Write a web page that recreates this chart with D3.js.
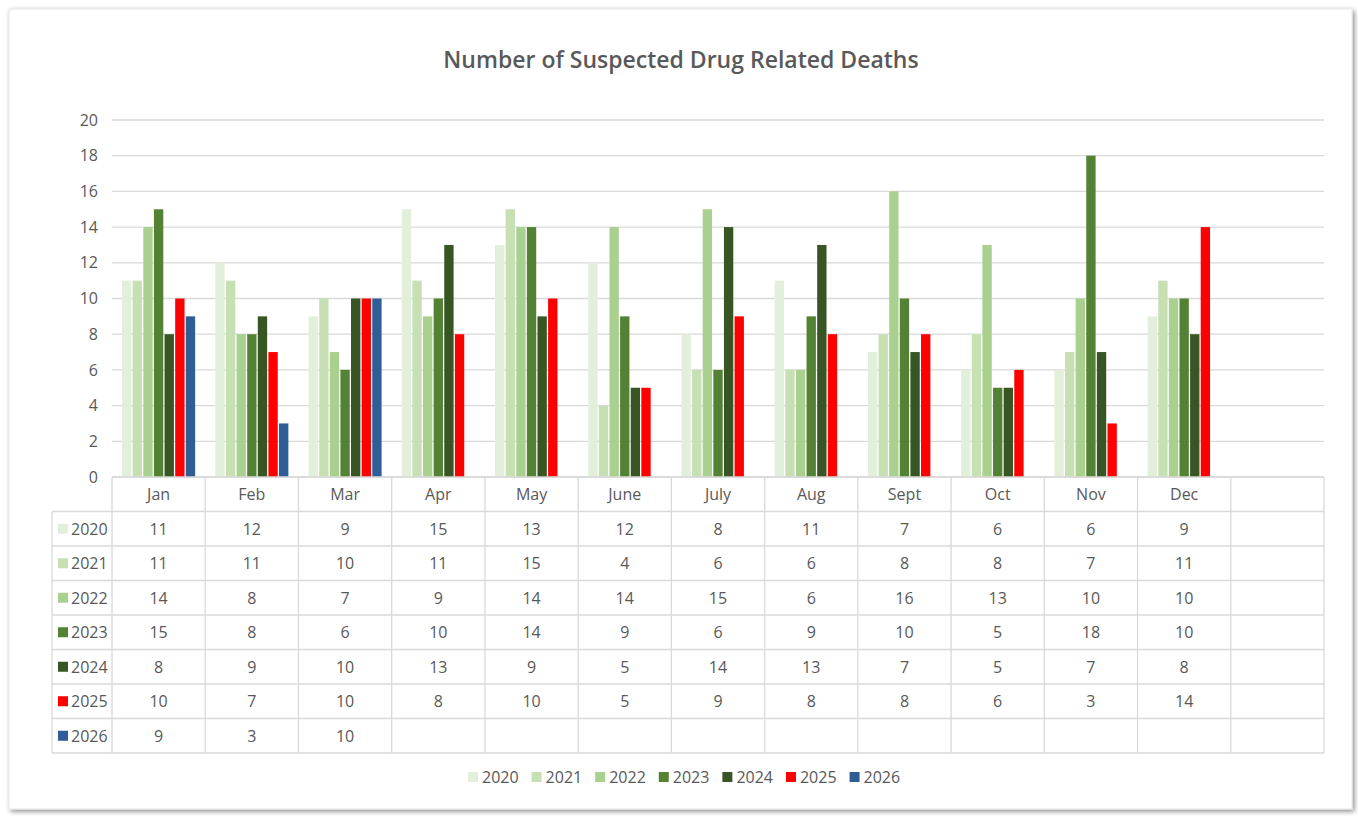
<!DOCTYPE html>
<html>
<head>
<meta charset="utf-8">
<script src="https://cdn.jsdelivr.net/npm/d3@7"></script>
<style>
  body { margin: 0; background: #fff; }
  svg text { font-family: "Open Sans", "Noto Sans", sans-serif; fill: #595959; }
</style>
</head>
<body>
<div id="chart"></div>
<script>
// months (the 13th column is empty in the original)
const months = ['Jan', 'Feb', 'Mar', 'Apr', 'May', 'June', 'July', 'Aug', 'Sept', 'Oct', 'Nov', 'Dec', ''];
const years = ['2020', '2021', '2022', '2023', '2024', '2025', '2026'];
const colors = ['#e2efda', '#c6e0b4', '#a9d08e', '#548235', '#375623', '#ff0000', '#2e5e95'];

const d2020 = [11, 12, 9, 15, 13, 12, 8, 11, 7, 6, 6, 9];
const d2021 = [11, 11, 10, 11, 15, 4, 6, 6, 8, 8, 7, 11];
const d2022 = [14, 8, 7, 9, 14, 14, 15, 6, 16, 13, 10, 10];
const d2023 = [15, 8, 6, 10, 14, 9, 6, 9, 10, 5, 18, 10];
const d2024 = [8, 9, 10, 13, 9, 5, 14, 13, 7, 5, 7, 8];
const d2025 = [10, 7, 10, 8, 10, 5, 9, 8, 8, 6, 3, 14];
const d2026 = [9, 3, 10];
const series = [d2020, d2021, d2022, d2023, d2024, d2025, d2026];

const yTicks = d3.range(0, 21, 2);

const W = 1358, H = 819;
const plot = { left: 112, right: 1324, top: 120, bottom: 477 };
const rowH = 34.5;
const keyColLeft = 52;

const svg = d3.select('#chart').append('svg')
    .attr('width', W)
    .attr('height', H);

// card with shadow
const defs = svg.append('defs');
const f = defs.append('filter').attr('id', 'shadow').attr('x', '-5%').attr('y', '-5%').attr('width', '110%').attr('height', '110%');
f.append('feDropShadow').attr('dx', 2).attr('dy', 2).attr('stdDeviation', 2.5).attr('flood-color', '#000').attr('flood-opacity', 0.45);

svg.append('rect')
    .attr('x', 9).attr('y', 9)
    .attr('width', 1343).attr('height', 800)
    .attr('fill', '#fff')
    .attr('stroke', '#e6e6e6')
    .attr('filter', 'url(#shadow)');

// title
svg.append('text')
    .attr('x', 681).attr('y', 68)
    .attr('text-anchor', 'middle')
    .style('font-size', '23px')
    .style('font-weight', '600')
    .text('Number of Suspected Drug Related Deaths');

const x = d3.scaleBand()
    .domain(months.map((m, i) => i))
    .range([plot.left, plot.right]);

const x1 = d3.scaleBand()
    .domain(years)
    .range([0, x.bandwidth()])
    .paddingInner(0.12)
    .paddingOuter(0.95);

const y = d3.scaleLinear()
    .domain([0, 20])
    .range([plot.bottom, plot.top]);

// gridlines
svg.append('g')
    .selectAll('line')
    .data(yTicks)
    .enter().append('line')
    .attr('x1', plot.left).attr('x2', plot.right)
    .attr('y1', d => y(d)).attr('y2', d => y(d))
    .attr('stroke', '#d9d9d9')
    .attr('stroke-width', 1.3);

// y axis labels
const yAxis = d3.axisLeft(y).tickValues(yTicks).tickSize(0).tickPadding(14);
const ya = svg.append('g')
    .attr('transform', `translate(${plot.left},0)`)
    .call(yAxis);
ya.select('.domain').remove();
ya.selectAll('text')
    .style('font-size', '16px')
    .style('fill', '#595959')
    .style('font-family', '"Open Sans", sans-serif');

// bars
series.forEach((vals, si) => {
    svg.append('g')
        .selectAll('rect')
        .data(vals)
        .enter().append('rect')
        .attr('x', (d, i) => x(i) + x1(years[si]))
        .attr('width', x1.bandwidth())
        .attr('y', d => y(d))
        .attr('height', d => y(0) - y(d))
        .attr('fill', colors[si]);
});

// data table
const grid = svg.append('g').attr('stroke', '#d9d9d9').attr('stroke-width', 1.3).attr('fill', 'none');
const tableBottom = plot.bottom + rowH * (years.length + 1);

// horizontal lines
grid.append('line').attr('x1', plot.left).attr('x2', plot.right).attr('y1', plot.bottom).attr('y2', plot.bottom);
d3.range(1, years.length + 2).forEach(r => {
    grid.append('line')
        .attr('x1', keyColLeft).attr('x2', plot.right)
        .attr('y1', plot.bottom + r * rowH).attr('y2', plot.bottom + r * rowH);
});
// vertical lines
grid.append('line').attr('x1', keyColLeft).attr('x2', keyColLeft).attr('y1', plot.bottom + rowH).attr('y2', tableBottom);
months.forEach((m, i) => {
    grid.append('line')
        .attr('x1', x(i)).attr('x2', x(i))
        .attr('y1', plot.bottom).attr('y2', tableBottom);
});
grid.append('line').attr('x1', plot.right).attr('x2', plot.right).attr('y1', plot.bottom).attr('y2', tableBottom);

// header labels
svg.append('g')
    .selectAll('text')
    .data(months)
    .enter().append('text')
    .attr('x', (d, i) => x(i) + x.bandwidth() / 2)
    .attr('y', plot.bottom + rowH / 2 + 6)
    .attr('text-anchor', 'middle')
    .style('font-size', '16px')
    .text(d => d);

// rows
years.forEach((yr, si) => {
    const cy = plot.bottom + rowH * (si + 1) + rowH / 2;
    svg.append('rect')
        .attr('x', keyColLeft + 6).attr('y', cy - 5)
        .attr('width', 10).attr('height', 10)
        .attr('fill', colors[si]);
    svg.append('text')
        .attr('x', keyColLeft + 19).attr('y', cy + 6)
        .style('font-size', '16px')
        .text(yr);
    svg.append('g')
        .selectAll('text')
        .data(series[si])
        .enter().append('text')
        .attr('x', (d, i) => x(i) + x.bandwidth() / 2)
        .attr('y', cy + 6)
        .attr('text-anchor', 'middle')
        .style('font-size', '16px')
        .text(d => d);
});

// legend
const legend = svg.append('g');
let lx = 468;
years.forEach((yr, si) => {
    legend.append('rect')
        .attr('x', lx).attr('y', 772)
        .attr('width', 10).attr('height', 10)
        .attr('fill', colors[si]);
    const t = legend.append('text')
        .attr('x', lx + 14).attr('y', 783)
        .style('font-size', '16px')
        .text(yr);
    lx += 14 + t.node().getComputedTextLength() + 13;
});
</script>
</body>
</html>
